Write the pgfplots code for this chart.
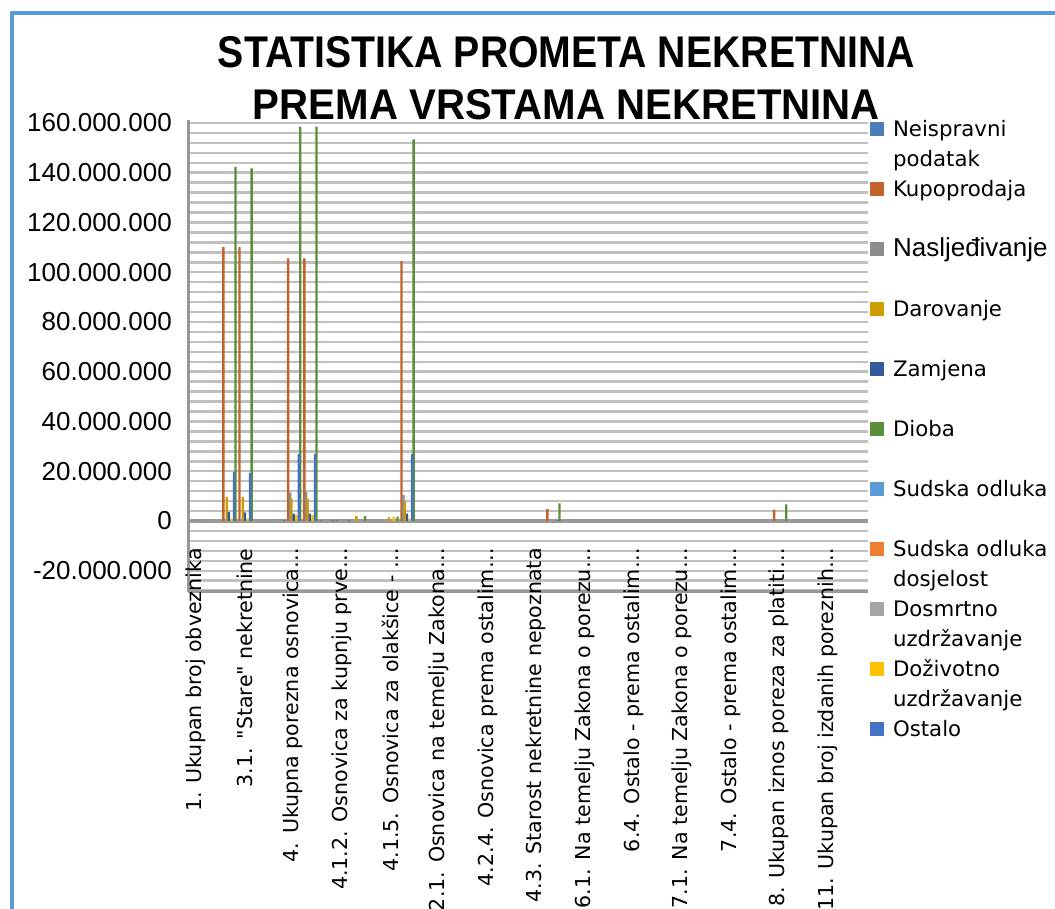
\documentclass[border=0pt]{standalone}
\usepackage{fontspec}
\setmainfont{DejaVu Sans}
\newfontfamily\lib{Liberation Sans}
\usepackage{pgfplots}
\pgfplotsset{compat=1.18}
\newcommand{\sq}{\XeTeXglyph\XeTeXcharglyph34\relax}
\definecolor{frameblue}{HTML}{5B9BD5}
\definecolor{cNeis}{HTML}{4A7EBB}
\definecolor{cKup}{HTML}{C4622D}
\definecolor{cNasl}{HTML}{8C8C8C}
\definecolor{cDar}{HTML}{D09C00}
\definecolor{cZam}{HTML}{345A9E}
\definecolor{cDiob}{HTML}{5A8E3A}
\definecolor{cSud}{HTML}{5B9BD5}
\definecolor{cDosj}{HTML}{ED7D31}
\definecolor{cDosm}{HTML}{A5A5A5}
\definecolor{cDoz}{HTML}{FFC000}
\definecolor{cOst}{HTML}{4472C4}
\definecolor{gridgray}{HTML}{C0C0C0}
\definecolor{floorgray}{HTML}{999999}
\pgfplotsset{
  sqb/.style={draw=none, fill=#1,
    legend image code/.code={\fill[fill=#1] (0pt,-4.8pt) rectangle (14pt,9.2pt);}},
}
\begin{document}
\begin{tikzpicture}[x=1pt,y=1pt]
\useasboundingbox (0,0) rectangle (1055,909);
\clip (0,0) rectangle (1055,909);
\fill[white] (0,0) rectangle (1055,909);
\draw[line width=4pt, frameblue] (12,-20) rectangle (1100,896);
\begin{axis}[
  at={(188pt,317.1pt)}, anchor=south west,
  scale only axis, width=680.4pt, height=471.4pt,
  xmin=-0.5, xmax=41.5, ymin=-28.5, ymax=161,
  ybar, bar width=0.15,
  axis x line*=bottom, axis y line*=left,
  axis line style={-, draw=floorgray, line width=3pt},
  tick style={draw=none},
  ytick={-20,0,20,40,60,80,100,120,140,160},
  yticklabels={-20.000.000,0,20.000.000,40.000.000,60.000.000,80.000.000,100.000.000,120.000.000,140.000.000,160.000.000},
  minor ytick={-28,-24,...,160},
  ymajorgrids, yminorgrids,
  major grid style={draw=gridgray, line width=2.5pt},
  minor grid style={draw=gridgray, line width=2.5pt},
  extra y ticks={0}, extra y tick labels={},
  extra y tick style={major grid style={draw=floorgray, line width=4pt}},
  yticklabel style={font=\lib\fontsize{26}{30}\selectfont, anchor=east, inner sep=0pt, xshift=-16pt},
  xtick={0,3,...,39},
  xticklabels={{1. Ukupan broj obveznika},{3.1. \sq Stare\sq{} nekretnine},{4. Ukupna porezna osnovica…},{4.1.2. Osnovica za kupnju prve…},{4.1.5. Osnovica za olakšice - …},{4.2.1. Osnovica na temelju Zakona…},{4.2.4. Osnovica prema ostalim…},{4.3. Starost nekretnine nepoznata},{6.1. Na temelju Zakona o porezu…},{6.4. Ostalo - prema ostalim…},{7.1. Na temelju Zakona o porezu…},{7.4. Ostalo - prema ostalim…},{8. Ukupan iznos poreza za platiti…},{11. Ukupan broj izdanih poreznih…}},
  xticklabel style={font=\fontsize{20.6}{25}\selectfont, yshift=48pt, rotate=90, anchor=east, inner sep=0pt},
  legend style={at={(1.0024,1)}, anchor=north west, draw=none, fill=none, inner sep=0pt, outer sep=0pt,
    row sep=39pt, column sep=9pt, font=\fontsize{21.3}{25}\selectfont,
    nodes={inner sep=0pt, text height=16pt, text depth=5pt}},
  legend cell align=left,
]
\addplot[sqb=cNeis, bar shift=-0.42] coordinates {(0,0)};
\addlegendentry{\makebox[0pt][l]{\raisebox{-30pt}[0pt][0pt]{podatak}}Neispravni}
\addplot[sqb=cKup, bar shift=-0.32] coordinates {(2,110.1) (3,110.1) (6,105.6) (7,105.6) (8,0.4) (9,0.4) (13,104.5) (22,4.8) (36,4.6)};
\addlegendentry{Kupoprodaja}
\addplot[sqb=cNasl, bar shift=-0.20] coordinates {(2,0.8) (3,0.8) (6,11.5) (7,11.8) (13,10.4)};
\addlegendentry{\lib\fontsize{26}{30}\selectfont Nasljeđivanje}
\addplot[sqb=cDar, bar shift=-0.11] coordinates {(2,9.6) (3,9.6) (6,9.0) (7,9.0) (10,2.0) (12,1.5) (13,7.8)};
\addlegendentry{Darovanje}
\addplot[sqb=cZam, bar shift=0.02] coordinates {(2,3.6) (3,3.5) (6,3.0) (7,3.0) (13,3.0)};
\addlegendentry{Zamjena}
\addplot[sqb=cDiob, bar shift=0.43] coordinates {(2,142.4) (3,141.8) (5,0.4) (6,158.5) (7,158.5) (8,0.4) (9,0.4) (10,2.0) (12,1.8) (13,153.4) (22,7.1) (36,6.7)};
\addlegendentry{Dioba}
\addplot[sqb=cSud, bar shift=0.10] coordinates {(0,0)};
\addlegendentry{Sudska odluka}
\addplot[sqb=cDosj, bar shift=0.12] coordinates {(0,0)};
\addlegendentry{\makebox[0pt][l]{\raisebox{-30pt}[0pt][0pt]{dosjelost}}Sudska odluka -}
\addplot[sqb=cDosm, bar shift=0.14] coordinates {(0,0)};
\addlegendentry{\makebox[0pt][l]{\raisebox{-30pt}[0pt][0pt]{uzdržavanje}}Dosmrtno}
\addplot[sqb=cDoz, bar shift=0.19] coordinates {(2,1.0) (3,1.0) (6,2.4) (7,2.4) (12,1.8) (13,1.0)};
\addlegendentry{\makebox[0pt][l]{\raisebox{-30pt}[0pt][0pt]{uzdržavanje}}Doživotno}
\addplot[sqb=cOst, bar shift=0.34] coordinates {(2,19.7) (3,19.3) (6,26.9) (7,26.9) (13,26.9) (22,0.4)};
\addlegendentry{Ostalo}
\end{axis}
\node[anchor=base, inner sep=0pt] at (566.5,841) {\resizebox{697pt}{31pt}{\lib\bfseries STATISTIKA PROMETA NEKRETNINA}};
\node[anchor=base, inner sep=0pt] at (566.5,789) {\resizebox{627pt}{30pt}{\lib\bfseries PREMA VRSTAMA NEKRETNINA}};
\end{tikzpicture}
\end{document}
